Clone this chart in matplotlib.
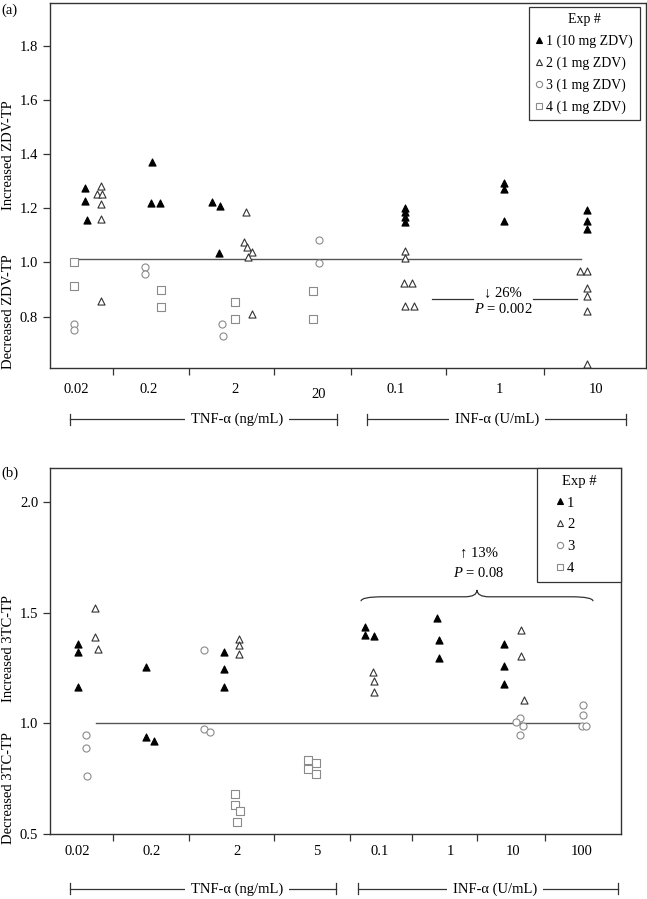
import matplotlib
matplotlib.use('Agg')
import matplotlib.pyplot as plt
from matplotlib.lines import Line2D
from matplotlib.path import Path
from matplotlib.patches import PathPatch

plt.rcParams['font.family'] = ['Liberation Serif', 'DejaVu Serif']
plt.rcParams['font.size'] = 10.5
plt.rcParams['mathtext.fontset'] = 'custom'
plt.rcParams['mathtext.rm'] = 'Liberation Serif'
plt.rcParams['mathtext.it'] = 'Liberation Serif:italic'

# ---------------- panel (a): ZDV-TP ----------------
a_labels = ['0.02', '0.2', '2', '20', '0.1', '1', '10']
a_centers = [26, 99, 185, 269, 346, 449, 546]
a_seps = [63, 139, 224, 301, 396, 494]

a1_x = [35, 35, 36.7, 101.7, 100.7, 110.3, 162.3, 170, 169.3,
        355, 355, 355, 355, 454.3, 454.3, 454.3, 536.7, 536.7, 536.7]
a1_y = [1.274, 1.227, 1.155, 1.369, 1.219, 1.218, 1.223, 1.208, 1.035,
        1.200, 1.184, 1.167, 1.149, 1.293, 1.272, 1.151, 1.192, 1.154, 1.123]
a2_x = [51, 47.3, 51.7, 51, 51, 51, 195.7, 193.7, 197, 201.7, 197.7, 201.7,
        355.3, 355.3, 354.3, 361.7, 355, 364.3, 530, 536.7, 536.7, 536.7, 536.7, 536.7]
a2_y = [1.28, 1.252, 1.252, 1.215, 1.161, 0.859, 1.186, 1.076, 1.055, 1.038, 1.02, 0.81,
        1.04, 1.016, 0.924, 0.924, 0.838, 0.838, 0.967, 0.967, 0.906, 0.875, 0.819, 0.623]
a3_x = [24, 24, 94.7, 94.7, 172.3, 173.3, 269.3, 269.3]
a3_y = [0.774, 0.749, 0.983, 0.957, 0.774, 0.727, 1.084, 0.998]
a4_x = [24, 24, 111.3, 111.3, 185, 185, 263.3, 263.3]
a4_y = [1.0, 0.914, 0.897, 0.836, 0.854, 0.792, 0.896, 0.792]

# ---------------- panel (b): 3TC-TP ----------------
b_labels = ['0.02', '0.2', '2', '5', '0.1', '1', '10', '100']
b_centers = [27, 102, 187, 267, 330, 400, 463, 532]
b_seps = [63, 139, 224, 300, 362, 427, 495]

b1_x = [28.3, 28.3, 28.3, 95.7, 95.7, 104.3, 174.3, 174.3, 174.3,
        315.3, 315.3, 323.7, 386.7, 389.3, 389.3, 454.3, 454.3, 454.3]
b1_y = [1.359, 1.323, 1.166, 1.255, 0.940, 0.921, 1.324, 1.244, 1.166,
        1.437, 1.398, 1.395, 1.478, 1.375, 1.296, 1.357, 1.259, 1.178]
b2_x = [45.3, 45.3, 48, 189.3, 189.3, 189.3, 322.7, 324, 324, 471, 471, 474.3]
b2_y = [1.523, 1.392, 1.336, 1.381, 1.353, 1.315, 1.231, 1.193, 1.140, 1.422, 1.306, 1.104]
b3_x = [35.7, 35.7, 37, 154, 154, 159.7, 470, 465.7, 472.7, 469.7, 533.3, 533.3, 531.7, 536.3]
b3_y = [0.949, 0.890, 0.762, 1.332, 0.974, 0.961, 1.025, 1.005, 0.986, 0.948,
        1.081, 1.038, 0.986, 0.986]
b4_x = [184.7, 184.7, 190, 187.3, 258.3, 266.3, 258.3, 266.3]
b4_y = [0.68, 0.630, 0.605, 0.555, 0.834, 0.822, 0.796, 0.771]

EDGE = '#333333'
GREY = '#8a8a8a'
styles = [dict(marker='^', facecolor='black', edgecolor='black'),
          dict(marker='^', facecolor='white', edgecolor=EDGE),
          dict(marker='o', facecolor='white', edgecolor=GREY),
          dict(marker='s', facecolor='white', edgecolor=GREY)]


def draw_panel(ax, series, labels, centers, seps, xmax, ylim, yticks,
               ref_y, ref_span, label_y, low_label=None):
    for (x, y), st in zip(series, styles):
        ax.scatter(x, y, s=26, marker=st['marker'], facecolors=st['facecolor'],
                   edgecolors=st['edgecolor'], linewidths=0.8, zorder=3)
    ax.plot(ref_span, [ref_y, ref_y], color='#555555', lw=1.0, zorder=2)
    ax.set_xlim(0, xmax)
    ax.set_ylim(*ylim)
    ax.set_yticks(yticks)
    ax.set_yticklabels(['{:.1f}'.format(t) for t in yticks])
    ax.set_xticks(seps)
    ax.set_xticklabels([])
    ax.tick_params(direction='out', length=5, width=0.9, color=EDGE)
    for sp in ax.spines.values():
        sp.set_color(EDGE)
        sp.set_linewidth(1.0)
    trans = ax.get_xaxis_transform()
    for lab, c in zip(labels, centers):
        dy = -0.014 if lab == low_label else 0
        ax.text(c, label_y + dy, lab, transform=trans, ha='center', va='center',
                clip_on=False)


def draw_bracket(ax, x0, x1, y, text, xt):
    trans = ax.get_xaxis_transform()
    ax.plot([x0, x1], [y, y], color=EDGE, lw=0.9, transform=trans, clip_on=False)
    for xe in (x0, x1):
        ax.plot([xe, xe], [y - 0.015, y + 0.015], color=EDGE, lw=0.9,
                transform=trans, clip_on=False)
    ax.text(xt, y, text, transform=trans, ha='center', va='center', clip_on=False,
            bbox=dict(facecolor='white', edgecolor='none', pad=4))


def make_legend(ax, names, bbox, hlen, htpad, fs):
    handles = [Line2D([], [], ls='none', marker=st['marker'], markersize=4.5,
                      markerfacecolor=st['facecolor'], markeredgecolor=st['edgecolor'],
                      markeredgewidth=0.8) for st in styles]
    leg = ax.legend(handles, names, title='Exp #', loc='upper right',
                    bbox_to_anchor=bbox, mode='expand', borderaxespad=0,
                    fancybox=False, edgecolor=EDGE, framealpha=1,
                    handlelength=hlen, handletextpad=htpad, labelspacing=0.6,
                    borderpad=0.45, fontsize=fs, title_fontsize=fs)
    leg.get_frame().set_linewidth(0.9)


fig = plt.figure(figsize=(6.47, 8.99), dpi=100)
ax1 = fig.add_axes([50 / 647, 1 - 368 / 899, 596 / 647, 365 / 899])
ax2 = fig.add_axes([50 / 647, 1 - 834 / 899, 571 / 647, 366 / 899])

# panel (a)
draw_panel(ax1, [(a1_x, a1_y), (a2_x, a2_y), (a3_x, a3_y), (a4_x, a4_y)],
           a_labels, a_centers, a_seps, 596, (0.61, 1.957),
           [0.8, 1.0, 1.2, 1.4, 1.6, 1.8], 1.011, [22, 531], -0.058,
           low_label='20')
draw_bracket(ax1, 20, 287, -0.14, 'TNF-α (ng/mL)', 187)
draw_bracket(ax1, 317, 576, -0.14, 'INF-α (U/mL)', 447)
make_legend(ax1, ['1 (10 mg ZDV)', '2 (1 mg ZDV)', '3 (1 mg ZDV)', '4 (1 mg ZDV)'],
            ((529 - 50) / 596, 0.5, 111 / 596, 0.489), 0.5, 0.3, 10)
ax1.plot([382, 423], [0.866, 0.866], color=EDGE, lw=0.9)
ax1.plot([483, 527], [0.866, 0.866], color=EDGE, lw=0.9)
ax1.text(453, 0.888, '↓ 26%', ha='center', va='center')
ax1.text(453, 0.826, '$P$ = 0.002', ha='center', va='center')
fig.text(9 / 647, 1 - 155 / 899, 'Increased ZDV-TP', rotation=90, ha='center', va='center')
fig.text(9 / 647, 1 - 312 / 899, 'Decreased ZDV-TP', rotation=90, ha='center', va='center')
fig.text(1 / 647, 1 - 10 / 899, '(a)', ha='left', va='center')

# panel (b)
draw_panel(ax2, [(b1_x, b1_y), (b2_x, b2_y), (b3_x, b3_y), (b4_x, b4_y)],
           b_labels, b_centers, b_seps, 571, (0.5, 2.154),
           [0.5, 1.0, 1.5, 2.0], 1.0, [46, 530], -0.049)
draw_bracket(ax2, 20, 286, -0.15, 'TNF-α (ng/mL)', 187)
draw_bracket(ax2, 308, 568, -0.15, 'INF-α (U/mL)', 445)
make_legend(ax2, ['1', '2', '3', '4'], ((537 - 50) / 571, 0.5, 84 / 571, 0.5),
            2.2, -0.6, 10.5)

# curly brace over the INF-alpha groups
bx0, bx1, bxm = 311, 543, 427
yb, ye, yt = 1.572, 1.552, 1.603
verts = [(bx0, ye), (bx0, yb), (bx0 + 22, yb),
         (bxm - 12, yb),
         (bxm, yb), (bxm, yt),
         (bxm, yb), (bxm + 12, yb),
         (bx1 - 22, yb),
         (bx1, yb), (bx1, ye)]
codes = [Path.MOVETO, Path.CURVE3, Path.CURVE3, Path.LINETO,
         Path.CURVE3, Path.CURVE3, Path.CURVE3, Path.CURVE3,
         Path.LINETO, Path.CURVE3, Path.CURVE3]
ax2.add_patch(PathPatch(Path(verts, codes), facecolor='none', edgecolor=EDGE, lw=0.9))
ax2.text(429, 1.771, '↑ 13%', ha='center', va='center')
ax2.text(429, 1.681, '$P$ = 0.08', ha='center', va='center')
fig.text(9 / 647, 1 - 648 / 899, 'Increased 3TC-TP', rotation=90, ha='center', va='center')
fig.text(9 / 647, 1 - 788 / 899, 'Decreased 3TC-TP', rotation=90, ha='center', va='center')
fig.text(1 / 647, 1 - 473 / 899, '(b)', ha='left', va='center')

fig.savefig('out.png', dpi=100)
